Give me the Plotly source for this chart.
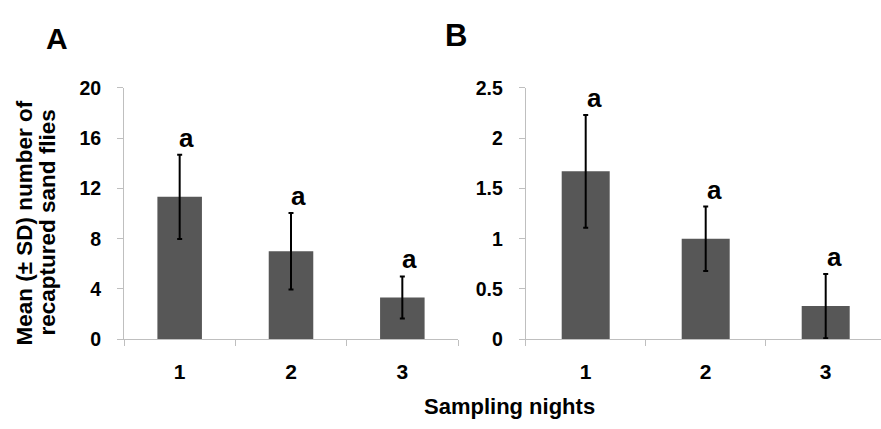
import plotly.graph_objects as go

# ---------------- data ----------------
nights = ["1", "2", "3"]
mean_A = [11.33, 7.0, 3.33]
sd_A = [3.35, 3.05, 1.67]
letters_A = ["a", "a", "a"]
mean_B = [1.67, 1.0, 0.33]
sd_B = [0.56, 0.32, 0.32]
letters_B = ["a", "a", "a"]
yticks_A = [0, 4, 8, 12, 16, 20]
yticks_B = [0, 0.5, 1, 1.5, 2, 2.5]
yticklabels_B = ["0", "0.5", "1", "1.5", "2", "2.5"]

W, H = 881, 429
FONT = "Arial, Liberation Sans, sans-serif"
BAR = "#575757"
AXC = "#bfbfbf"

def px_x(p):
    return p / W

def px_y(p):
    return 1 - p / H

fig = go.Figure()

fig.add_trace(go.Bar(
    x=nights, y=mean_A, width=0.4, marker=dict(color=BAR, line=dict(width=0)),
    error_y=dict(type="data", array=sd_A, visible=True, color="black", thickness=2, width=2.5),
    xaxis="x", yaxis="y", showlegend=False,
))
fig.add_trace(go.Bar(
    x=nights, y=mean_B, width=0.4, marker=dict(color=BAR, line=dict(width=0)),
    error_y=dict(type="data", array=sd_B, visible=True, color="black", thickness=2, width=2.5),
    xaxis="x2", yaxis="y2", showlegend=False,
))

ydom = [px_y(346), px_y(81)]
b_left = 525.7
b_cat = 120.0
b_range_end = -0.5 + (W - b_left) / b_cat

xcommon = dict(type="category", tickson="boundaries", ticks="outside", ticklen=6,
               tickcolor=AXC, tickwidth=1, showline=True, linecolor=AXC, linewidth=1,
               showgrid=False, zeroline=False,
               tickfont=dict(family=FONT, size=21, color="black", weight="bold"),
               ticklabelstandoff=14)
ycommon = dict(ticks="outside", ticklen=6, tickcolor=AXC, tickwidth=1, showline=True,
               linecolor=AXC, linewidth=1, showgrid=False, zeroline=False,
               tickfont=dict(family=FONT, size=19.5, color="black", weight="bold"),
               ticklabelstandoff=12, domain=ydom)

fig.update_layout(
    width=W, height=H, margin=dict(l=0, r=0, t=0, b=0),
    paper_bgcolor="white", plot_bgcolor="white",
    xaxis=dict(domain=[px_x(124), px_x(458)], range=[-0.5, 2.5], anchor="y", **xcommon),
    yaxis=dict(range=[0, 20], tickvals=yticks_A, anchor="x", **ycommon),
    xaxis2=dict(domain=[px_x(b_left), 1.0], range=[-0.5, b_range_end], anchor="y2", **xcommon),
    yaxis2=dict(range=[0, 2.5], tickvals=yticks_B, ticktext=yticklabels_B, anchor="x2", **ycommon),
)

ann = []
for i, (m, s, t) in enumerate(zip(mean_A, sd_A, letters_A)):
    ann.append(dict(x=i, y=m + s, xref="x", yref="y", text=t, showarrow=False,
                    xanchor="center", yanchor="middle", yshift=17, xshift=7,
                    font=dict(family=FONT, size=26, color="black", weight="bold")))
for i, (m, s, t) in enumerate(zip(mean_B, sd_B, letters_B)):
    ann.append(dict(x=i, y=m + s, xref="x2", yref="y2", text=t, showarrow=False,
                    xanchor="center", yanchor="middle", yshift=17, xshift=9,
                    font=dict(family=FONT, size=26, color="black", weight="bold")))

# y-axis title (two lines)
ann.append(dict(x=px_x(24.5), y=px_y(223.5), xref="paper", yref="paper",
                text="Mean (± SD) number of", textangle=-90, showarrow=False,
                xanchor="center", yanchor="middle",
                font=dict(family=FONT, size=22.5, color="black", weight="bold")))
ann.append(dict(x=px_x(47.5), y=px_y(223.5), xref="paper", yref="paper",
                text="recaptured sand flies", textangle=-90, showarrow=False,
                xanchor="center", yanchor="middle",
                font=dict(family=FONT, size=22.5, color="black", weight="bold")))
# x-axis title
ann.append(dict(x=px_x(509.5), y=px_y(417.4), xref="paper", yref="paper",
                text="Sampling nights", showarrow=False, xanchor="center", yanchor="middle",
                font=dict(family=FONT, size=22, color="black", weight="bold")))
# panel labels
ann.append(dict(x=px_x(56.5), y=px_y(28.6), xref="paper", yref="paper", text="A",
                showarrow=False, xanchor="center", yanchor="middle",
                font=dict(family=FONT, size=30, color="black", weight="bold")))
ann.append(dict(x=px_x(455.5), y=px_y(25.3), xref="paper", yref="paper", text="B",
                showarrow=False, xanchor="center", yanchor="middle",
                font=dict(family=FONT, size=31, color="black", weight="bold")))

fig.update_layout(annotations=ann)
fig.write_html("out.html")
